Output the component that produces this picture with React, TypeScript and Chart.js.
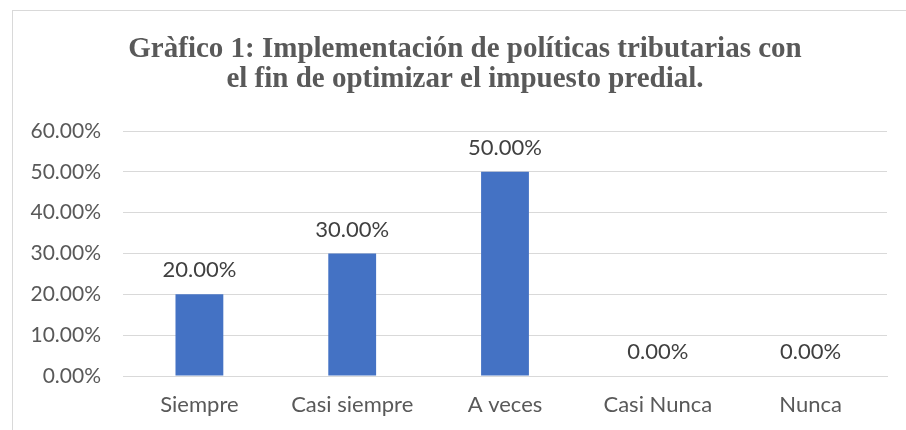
import React, { useEffect, useRef } from "react";
import { Chart, registerables } from "chart.js";

Chart.register(...registerables);

const titleLines = [
  "Gràfico 1: Implementación de políticas tributarias con",
  "el fin de optimizar el impuesto predial.",
];
const categories = ["Siempre", "Casi siempre", "A veces", "Casi Nunca", "Nunca"];
const values = [0.2, 0.3, 0.5, 0, 0];
const yMax = 0.6;
const yStep = 0.1;

const fmt = (v: number) => (v * 100).toFixed(2) + "%";

const titlePlugin = {
  id: "customTitle",
  afterDraw(chart: any) {
    const ctx = chart.ctx;
    ctx.save();
    ctx.font = "bold 29px 'Liberation Serif', 'Times New Roman', serif";
    ctx.fillStyle = "#595959";
    ctx.textAlign = "center";
    ctx.textBaseline = "alphabetic";
    const cx = 465;
    titleLines.forEach((t, i) => ctx.fillText(t, cx, 57 + i * 30));
    ctx.restore();
  },
};

const labelPlugin = {
  id: "dataLabels",
  afterDatasetsDraw(chart: any) {
    const ctx = chart.ctx;
    const meta = chart.getDatasetMeta(0);
    ctx.save();
    ctx.font = "22px Lato, 'Liberation Sans', sans-serif";
    ctx.fillStyle = "#404040";
    ctx.textAlign = "center";
    ctx.textBaseline = "alphabetic";
    meta.data.forEach((bar: any, i: number) => {
      const v = chart.data.datasets[0].data[i];
      ctx.fillText(fmt(v), bar.x, bar.y - 17);
    });
    ctx.restore();
  },
};

export default function App() {
  const ref = useRef<HTMLCanvasElement>(null);
  useEffect(() => {
    if (!ref.current) return;
    const chart = new Chart(ref.current, {
      type: "bar",
      data: {
        labels: categories,
        datasets: [
          {
            data: values,
            backgroundColor: "#4472C4",
            barPercentage: 0.313,
            categoryPercentage: 1,
          },
        ],
      },
      options: {
        animation: false,
        responsive: false,
        maintainAspectRatio: false,
        layout: { padding: { left: 0, right: 19, top: 131, bottom: 0 } },
        plugins: {
          legend: { display: false },
          title: { display: false },
          tooltip: { enabled: false },
        },
        scales: {
          x: {
            grid: { display: false, drawTicks: false },
            border: { display: true, color: "#d9d9d9", width: 1 },
            ticks: {
              color: "#595959",
              font: { family: "Lato, 'Liberation Sans', sans-serif", size: 22 },
              padding: 16,
              maxRotation: 0,
            },
            afterFit: (scale: any) => {
              scale.height = 54;
            },
          },
          y: {
            min: 0,
            max: yMax,
            grid: { color: "#d9d9d9", drawTicks: false, lineWidth: 1 },
            border: { display: false },
            ticks: {
              stepSize: yStep,
              color: "#595959",
              font: { family: "Lato, 'Liberation Sans', sans-serif", size: 21 },
              padding: 22,
              callback: (v: any) => fmt(Number(v)),
            },
            afterFit: (scale: any) => {
              scale.width = 123;
            },
          },
        },
      },
      plugins: [titlePlugin, labelPlugin],
    });
    return () => chart.destroy();
  }, []);
  return (
    <div style={{ position: "fixed", left: 0, top: 0, width: 906, height: 430, background: "#fff", overflow: "hidden" }}>
      <div
        style={{
          position: "absolute",
          left: 12,
          top: 10,
          width: 906,
          height: 430,
          border: "1px solid #d9d9d9",
        }}
      />
      <canvas ref={ref} width={906} height={430} style={{ position: "absolute", left: 0, top: 0, width: 906, height: 430 }} />
    </div>
  );
}
